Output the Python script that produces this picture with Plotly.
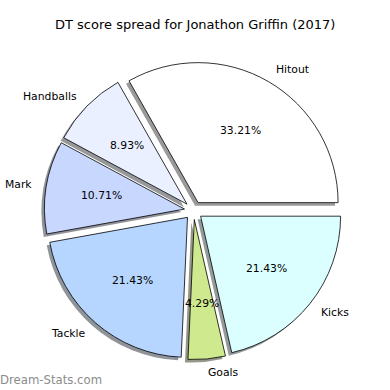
import numpy as np
import plotly.graph_objects as go

# ---- data ----
labels = ["Hitout", "Handballs", "Mark", "Tackle", "Goals", "Kicks"]
values = [33.21, 8.93, 10.71, 21.43, 4.29, 21.43]
colors = ["#ffffff", "#eaf0ff", "#c7d7fe", "#b6d6ff", "#cfe98e", "#dbffff"]
title_text = "DT score spread for Jonathon Griffin (2017)"
watermark = "Dream-Stats.com"

# ---- geometry (figure pixels) ----
W = H = 390
cx_px, cy_px = 193.5, 210.5      # pie centre (from top-left)
r_px = 140.0                     # pie radius
pull = 0.065                     # explode fraction of radius
shadow_dx, shadow_dy = -3.0, 3.0  # shadow offset in px (left, down)

half = r_px * (1 + pull)

vals = np.array(values, dtype=float)
frac = vals / vals.sum()
# plotly (counterclockwise): rotation marks the boundary after the first slice;
# we want the first slice to start at 3 o'clock
rotation = 90 - 360 * frac[0]


def domain(dx=0.0, dy=0.0):
    x0 = (cx_px + dx - half) / W
    x1 = (cx_px + dx + half) / W
    y0 = 1 - (cy_px + dy + half) / H
    y1 = 1 - (cy_px + dy - half) / H
    return dict(x=[x0, x1], y=[y0, y1])


def shade(hexcol):
    h = hexcol.lstrip("#")
    rgb = [int(h[i:i + 2], 16) for i in (0, 2, 4)]
    s = [int(round(0.5 * 0.3 * c + 0.5 * 255 - 12)) for c in rgb]
    return "rgb(%d,%d,%d)" % tuple(s)


fig = go.Figure()

# shadow pie
fig.add_trace(go.Pie(
    labels=labels, values=values, sort=False, direction="counterclockwise",
    rotation=rotation, pull=[pull] * len(values), domain=domain(shadow_dx, shadow_dy),
    marker=dict(colors=[shade(c) for c in colors], line=dict(width=0)),
    textinfo="none", hoverinfo="skip", showlegend=False,
))

# main pie
fig.add_trace(go.Pie(
    labels=labels, values=values, sort=False, direction="counterclockwise",
    rotation=rotation, pull=[pull] * len(values), domain=domain(),
    marker=dict(colors=colors, line=dict(color="black", width=0.8)),
    textinfo="none", showlegend=False,
))

# ---- labels and percentages computed from the data ----
ends = np.cumsum(frac) * 2 * np.pi
starts = ends - frac * 2 * np.pi
mids = (starts + ends) / 2

font = dict(family="DejaVu Sans", size=10.8, color="black")
common = dict(xref="paper", yref="paper", showarrow=False, borderpad=0,
              borderwidth=0, yanchor="middle")
annotations = []
for lab, f, a in zip(labels, frac, mids):
    ca, sa = np.cos(a), np.sin(a)
    ex, ey = cx_px + pull * r_px * ca, cy_px - pull * r_px * sa
    lx, ly = ex + 1.1 * r_px * ca, ey - 1.1 * r_px * sa
    px, py = ex + 0.6 * r_px * ca, ey - 0.6 * r_px * sa
    annotations.append(dict(
        x=lx / W, y=1 - ly / H, text=lab,
        xanchor="left" if ca > 0 else "right", font=font, **common))
    annotations.append(dict(
        x=px / W, y=1 - py / H, text="%.2f%%" % (f * 100),
        xanchor="center", font=font, **common))

annotations.append(dict(
    x=0.5, y=1 - 25 / H, text=title_text, xanchor="center",
    font=dict(family="DejaVu Sans", size=13, color="black"), **common))
annotations.append(dict(
    x=0, y=1 - 380 / H, text=watermark, xanchor="left",
    font=dict(family="DejaVu Sans", size=11.7, color="#8c8c8c"), **common))

fig.update_layout(
    width=W, height=H, margin=dict(l=0, r=0, t=0, b=0),
    paper_bgcolor="white", plot_bgcolor="white",
    annotations=annotations,
)

fig.write_html("out.html", config={"displayModeBar": False},
               post_script="document.body.style.margin='0';")
